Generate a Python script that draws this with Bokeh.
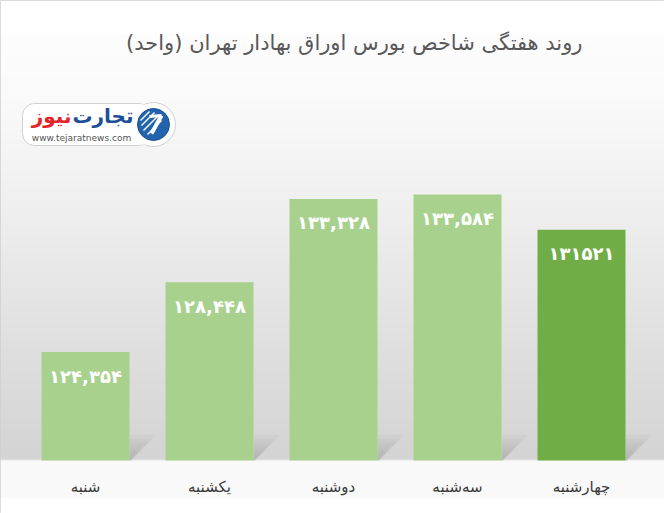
import numpy as np
from bokeh.plotting import figure
from bokeh.models import Range1d, ColumnDataSource
from bokeh.core.properties import value
from bokeh.embed import file_html
from bokeh.resources import INLINE

# ---------------- data ----------------
days = ["شنبه", "یکشنبه", "دوشنبه", "سه‌شنبه", "چهارشنبه"]
index_values = [124354, 128448, 133328, 133584, 131521]
value_labels = ["۱۲۴,۳۵۴", "۱۲۸,۴۴۸", "۱۳۳,۳۲۸", "۱۳۳,۵۸۴", "۱۳۱۵۲۱"]
bar_colors = ["#A9D18E", "#A9D18E", "#A9D18E", "#A9D18E", "#70AD47"]
title_text = "روند هفتگی شاخص بورس اوراق بهادار تهران (واحد)"
brand_a = "تجارت"
brand_b = "نیوز"
brand_url = "www.tejaratnews.com"

# ---------------- layout helpers ----------------
W, H = 664, 513
BASE_VALUE = 118000          # value at the bars' baseline
BASE_PX = 460                # baseline pixel row
UPP = 58.6                   # value units per pixel
FIRST_PX, STEP_PX = 85, 124  # first bar centre, bar spacing (px)
BAR_W = 88 / STEP_PX


def xd(px):
    return (px - FIRST_PX) / STEP_PX


def yd(py):
    return BASE_VALUE + (BASE_PX - py) * UPP


p = figure(width=W, height=H,
           x_range=Range1d(xd(0), xd(W)), y_range=Range1d(yd(H), yd(0)),
           output_backend="svg", toolbar_location=None,
           x_axis_location=None, y_axis_location=None, min_border=0)
p.grid.visible = False
p.outline_line_color = "#cfcfcf"
p.background_fill_color = "white"
p.border_fill_color = "white"

# ---------------- background gradient ----------------
rows = np.arange(H) + 0.5
stops_px = [0, 33, 34, 100, 190, 280, 350, 459, 460, 497, 498, 513]
stops_gray = [255, 255, 253, 250, 241, 231, 223, 212, 249, 249, 255, 255]
gray = np.interp(rows, stops_px, stops_gray)[::-1].astype(np.uint8)
img = np.zeros((H, 2), dtype=np.uint32)
view = img.view(dtype=np.uint8).reshape((H, 2, 4))
for c in range(3):
    view[:, :, c] = gray[:, None]
view[:, :, 3] = 255
p.image_rgba(image=[img], x=xd(0), y=yd(H), dw=xd(W) - xd(0), dh=yd(0) - yd(H))

# ---------------- bar shadows ----------------
idx = list(range(len(days)))
sl, sr, sb, st, sa = [], [], [], [], []
for i in idx:
    right = i + BAR_W / 2
    for k in range(0, 26, 2):
        sl.append(right)
        sr.append(right + (k + 2) / STEP_PX)
        sb.append(BASE_VALUE + k * UPP)
        st.append(BASE_VALUE + (k + 2) * UPP)
        sa.append(0.45 * (1 - k / 28))
p.quad(left=sl, right=sr, bottom=sb, top=st, fill_color="#8a8a8a",
       fill_alpha=sa, line_color=None)

# ---------------- bars ----------------
src = ColumnDataSource(dict(x=idx, top=index_values, color=bar_colors,
                            label=value_labels, day=days,
                            ly=[v - 24 * UPP for v in index_values]))
p.vbar(x="x", top="top", bottom=BASE_VALUE, width=BAR_W, fill_color="color",
       line_color=None, source=src)

p.text(x="x", y="ly", text="label", source=src, text_color="white",
       text_font=value("DejaVu Sans"), text_font_style="bold",
       text_font_size="18px", text_align="center", text_baseline="middle")

p.text(x="x", y=yd(486), text="day", source=src, text_color="#3a3a3a",
       text_font=value("DejaVu Sans"), text_font_size="15px",
       text_align="center", text_baseline="middle")

# ---------------- title ----------------
p.text(x=[xd(582)], y=[yd(42)], text=[title_text], text_color="#595959",
       text_font=value("DejaVu Sans"), text_font_size="21px",
       text_align="right", text_baseline="middle")

# ---------------- logo ----------------
p.quad(left=[xd(22)], right=[xd(150)], bottom=[yd(145)], top=[yd(103)],
       fill_color="white", line_color="#d0d0d0", line_width=1, border_radius=12)
p.scatter(x=[xd(153)], y=[yd(124)], marker="circle", size=44,
          fill_color="white", line_color="#d0d0d0")
p.quad(left=[xd(128)], right=[xd(152)], bottom=[yd(144)], top=[yd(104)],
       fill_color="white", line_color=None)
p.scatter(x=[xd(153)], y=[yd(124)], marker="circle", size=32,
          fill_color="#2163ad", line_color="#1a4f8c")
# white stripes of the emblem (pixel offsets from the emblem centre)
seg = [(-13, 4, -4, 13), (-12, -1, 1, 12), (-10, -6, 5, 9), (-6, -10, 8, 4)]
p.segment(x0=[xd(153 + a) for a, b, c, d in seg], y0=[yd(124 - b) for a, b, c, d in seg],
          x1=[xd(153 + c) for a, b, c, d in seg], y1=[yd(124 - d) for a, b, c, d in seg],
          line_color="white", line_width=1.5)
p.segment(x0=[xd(151)], y0=[yd(133)], x1=[xd(161)], y1=[yd(115)],
          line_color="white", line_width=4)
p.segment(x0=[xd(149)], y0=[yd(116)], x1=[xd(161)], y1=[yd(115)],
          line_color="white", line_width=3)

p.text(x=[xd(133)], y=[yd(115)], text=[brand_a], text_color="#1d4e9a",
       text_font=value("DejaVu Sans"), text_font_style="bold",
       text_font_size="20px", text_align="right", text_baseline="middle")
p.text(x=[xd(71)], y=[yd(115)], text=[brand_b], text_color="#e3242b",
       text_font=value("DejaVu Sans"), text_font_style="bold",
       text_font_size="20px", text_align="right", text_baseline="middle")
p.text(x=[xd(81)], y=[yd(137)], text=[brand_url], text_color="#555555",
       text_font=value("DejaVu Sans"), text_font_size="9px",
       text_align="center", text_baseline="middle")

open("out.html", "w").write(file_html(p, INLINE))
